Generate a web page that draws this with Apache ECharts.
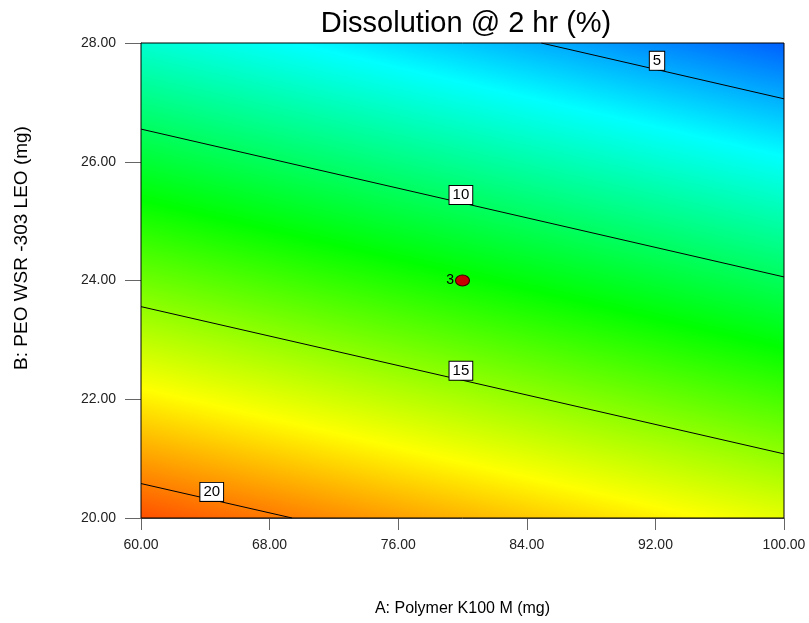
<!DOCTYPE html>
<html>
<head>
<meta charset="utf-8">
<script src="https://cdn.jsdelivr.net/npm/echarts@6/dist/echarts.min.js"></script>
<style>
  html, body { margin: 0; padding: 0; background: #fff; }
  #chart { width: 809px; height: 623px; }
</style>
</head>
<body>
<div id="chart"></div>
<script>
// contour lines (A = x, B = y)
const levels = [5, 10, 15, 20];
const lineStartA = [84.9, 60, 60, 60];
const lineStartB = [28, 26.55, 23.56, 20.58];
const lineEndA = [100, 100, 100, 69.4];
const lineEndB = [27.06, 24.06, 21.08, 20];
const labelA = [92.1, 79.9, 79.9, 64.4];
const labelB = [27.70, 25.44, 22.48, 20.44];

// design point
const designA = [80];
const designB = [24];
const designRuns = ['3'];

// colour ramp: response value -> colour
const colorValues = [1.5, 6.6, 12.0, 17.3, 22.6];
const colorList = ['#0000ff', '#00ffff', '#00ff00', '#ffff00', '#ff0000'];

const xTicks = { min: 60, max: 100, interval: 8 };
const yTicks = { min: 20, max: 28, interval: 2 };

const font = 'Arial, "Liberation Sans", sans-serif';

function renderFill(params, api) {
  const cs = params.coordSys;
  // use the 10 and 15 contours to orient the colour ramp
  const a = api.coord([lineStartA[1], lineStartB[1]]);
  const b = api.coord([lineEndA[1], lineEndB[1]]);
  const c = api.coord([lineStartA[2], lineStartB[2]]);
  let ux = b[0] - a[0], uy = b[1] - a[1];
  const len = Math.sqrt(ux * ux + uy * uy);
  ux /= len; uy /= len;
  const nx = -uy, ny = ux;
  const pxPerUnit = ((c[0] - a[0]) * nx + (c[1] - a[1]) * ny) / (levels[2] - levels[1]);
  const lo = colorValues[0], hi = colorValues[colorValues.length - 1];
  const g0 = [a[0] + nx * (lo - levels[1]) * pxPerUnit, a[1] + ny * (lo - levels[1]) * pxPerUnit];
  const g1 = [a[0] + nx * (hi - levels[1]) * pxPerUnit, a[1] + ny * (hi - levels[1]) * pxPerUnit];
  const stops = colorValues.map((v, i) => ({ offset: (v - lo) / (hi - lo), color: colorList[i] }));
  return {
    type: 'rect',
    shape: { x: cs.x, y: cs.y, width: cs.width, height: cs.height },
    style: {
      fill: { type: 'linear', x: g0[0], y: g0[1], x2: g1[0], y2: g1[1], global: true, colorStops: stops },
      stroke: '#000',
      lineWidth: 1
    },
    silent: true
  };
}

const series = [{
  type: 'custom',
  coordinateSystem: 'cartesian2d',
  renderItem: renderFill,
  data: [[xTicks.min, yTicks.min]],
  silent: true,
  z: 1
}];

levels.forEach((lv, i) => {
  series.push({
    type: 'line',
    data: [[lineStartA[i], lineStartB[i]], [lineEndA[i], lineEndB[i]]],
    symbol: 'none',
    lineStyle: { color: '#000', width: 1 },
    silent: true,
    z: 3
  });
});

series.push({
  type: 'scatter',
  data: levels.map((lv, i) => [labelA[i], labelB[i], lv]),
  symbolSize: 0,
  itemStyle: { opacity: 1 },
  label: {
    show: true,
    position: 'inside',
    formatter: p => String(p.value[2]),
    backgroundColor: '#ffffff',
    borderColor: '#000',
    borderWidth: 1,
    padding: [2, 3, 1, 3],
    fontSize: 15,
    fontFamily: font,
    color: '#000'
  },
  silent: true,
  z: 4
});

series.push({
  type: 'scatter',
  data: designA.map((a, i) => [a, designB[i], designRuns[i]]),
  symbol: 'circle',
  symbolSize: [14, 11],
  itemStyle: { color: '#c80000', borderColor: '#3a0000', borderWidth: 1, opacity: 1 },
  label: {
    show: true,
    position: 'left',
    distance: 1,
    formatter: p => p.value[2],
    fontSize: 14,
    fontFamily: font,
    color: '#000'
  },
  silent: true,
  z: 5
});

const option = {
  animation: false,
  title: {
    text: 'Dissolution @ 2 hr (%)',
    left: 461,
    top: 4,
    textAlign: 'center',
    textStyle: { fontSize: 29, fontWeight: 'normal', fontFamily: font, color: '#000' }
  },
  grid: { left: 141, right: 25, top: 43, bottom: 105 },
  xAxis: {
    type: 'value',
    min: xTicks.min,
    max: xTicks.max,
    interval: xTicks.interval,
    name: 'A: Polymer K100 M (mg)',
    nameLocation: 'middle',
    nameGap: 83,
    nameTextStyle: { fontSize: 16, fontFamily: font, color: '#000' },
    axisLine: { lineStyle: { color: '#666', width: 1 } },
    axisTick: { show: true, length: 12, lineStyle: { color: '#666' } },
    axisLabel: { margin: 20, fontSize: 14, fontFamily: font, color: '#222', formatter: v => v.toFixed(2) },
    splitLine: { show: false }
  },
  yAxis: {
    type: 'value',
    min: yTicks.min,
    max: yTicks.max,
    interval: yTicks.interval,
    axisLine: { show: true, lineStyle: { color: '#666', width: 1 } },
    axisTick: { show: true, length: 16, lineStyle: { color: '#666' } },
    axisLabel: { margin: 25, fontSize: 14, fontFamily: font, color: '#222', formatter: v => v.toFixed(2) },
    splitLine: { show: false }
  },
  graphic: [{
    type: 'text',
    x: 22,
    y: 248,
    rotation: Math.PI / 2,
    style: {
      text: 'B: PEO WSR -303 LEO (mg)',
      font: '19px ' + font,
      fill: '#000',
      align: 'center',
      verticalAlign: 'middle'
    }
  }],
  series: series
};

const chart = echarts.init(document.getElementById('chart'));
chart.setOption(option);
</script>
</body>
</html>
